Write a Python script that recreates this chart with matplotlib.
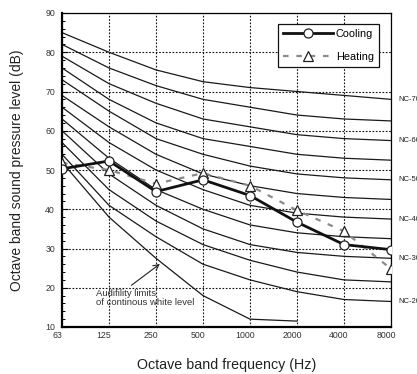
import matplotlib
matplotlib.use("Agg")
import matplotlib.pyplot as plt
from matplotlib.transforms import ScaledTranslation
from matplotlib.lines import Line2D

plt.rcParams['font.family'] = ['Liberation Sans', 'DejaVu Sans']

freqs = ["63", "125", "250", "500", "1000", "2000", "4000", "8000"]

nc_names = ["NC-70", "NC-65", "NC-60", "NC-55", "NC-50", "NC-45",
            "NC-40", "NC-35", "NC-30", "NC-25", "NC-20"]
nc_values = [
    [85, 80, 75.5, 72.5, 71, 70, 69, 68],
    [82, 76, 71.5, 68, 66, 64, 63, 62.5],
    [79, 72, 67, 63, 61, 59, 58, 57.5],
    [76, 68, 62, 58, 56, 54, 53, 52.5],
    [73, 65, 58, 54, 51, 49, 48, 47.5],
    [69, 61, 54, 49, 46, 44, 43, 42.5],
    [66, 57, 50, 45, 41, 39, 38, 37.5],
    [63, 53, 45, 40, 36, 34, 33, 32.5],
    [60, 49, 41, 35, 31, 29, 28, 27.5],
    [57, 45, 37, 31, 27, 24, 22, 21.5],
    [54, 41, 33, 26, 22, 19, 17, 16.5],
]
nc_labelled = ["NC-70", "NC-60", "NC-50", "NC-40", "NC-30", "NC-20"]

audibility = [52, 38, 27.5, 18, 12, 11.5]

cooling = [50.3, 52.3, 44.5, 47.5, 43.5, 36.7, 31.0, 29.7]
heating = [51.8, 50.0, 46.5, 49.2, 46.0, 39.7, 34.4, 24.8]

fig = plt.figure(figsize=(4.17, 3.74), dpi=100)
ax = fig.add_axes([62/417, 1-327/374, (391-62)/417, (327-13)/374])

x = list(range(len(freqs)))

for name, vals in zip(nc_names, nc_values):
    ax.plot(x, vals, color="#1a1a1a", lw=0.9, zorder=2)
    if name in nc_labelled:
        ax.text(x[-1] + 0.15, vals[-1], name, fontsize=5.5, va="center",
                ha="left", color="#222222", clip_on=False)

ax.plot(x[:len(audibility)], audibility, color="#1a1a1a", lw=0.9, zorder=2)

ax.plot(x, heating, color="#8a8a8a", lw=1.6, dashes=(2.5, 3.5), zorder=3,
        marker="^", markersize=6.5, markerfacecolor="white",
        markeredgecolor="#222222", markeredgewidth=0.9)
ax.plot(x, cooling, color="#111111", lw=2.0, zorder=4,
        marker="o", markersize=6.5, markerfacecolor="white",
        markeredgecolor="#222222", markeredgewidth=0.9)

ax.annotate("", xy=(2.13, 26.5), xytext=(1.43, 20.2),
            arrowprops=dict(arrowstyle="->", color="#222222", lw=0.8))
ax.text(0.72, 19.8, "Audifility limits\nof continous white level",
        fontsize=6.8, va="top", ha="left", color="#333333", linespacing=1.05)

ax.set_xlim(0, 7)
ax.set_ylim(10, 90)
ax.set_xticks(x)
ax.set_xticklabels(freqs)
ax.set_yticks(range(10, 91, 10))
ax.set_yticks(range(10, 91, 2), minor=True)
ax.tick_params(axis="x", length=0, labelsize=6.3, pad=3, colors="#333333")
ax.tick_params(axis="y", which="major", direction="in", length=4, width=0.8,
               labelsize=6.3, pad=5, labelcolor="#333333")
ax.tick_params(axis="y", which="minor", direction="in", length=2.5, width=0.7)
for lab in ax.get_xticklabels():
    lab.set_transform(lab.get_transform() + ScaledTranslation(-5/100, 0, fig.dpi_scale_trans))

ax.grid(True, which="major", color="#111111", linestyle=(0, (1.5, 1.5)), lw=0.8)
ax.set_axisbelow(True)

ax.spines["left"].set_linewidth(1.6)
ax.spines["bottom"].set_linewidth(1.6)
ax.spines["top"].set_linewidth(0.9)
ax.spines["right"].set_linewidth(0.9)

ax.set_xlabel("Octave band frequency (Hz)", fontsize=10.3, labelpad=13, color="#222222")
ax.set_ylabel("Octave band sound pressure level (dB)", fontsize=10, labelpad=15, color="#222222")

handles = [
    Line2D([], [], color="#111111", lw=2.0, marker="o", markersize=6.5,
           markerfacecolor="white", markeredgecolor="#222222", markeredgewidth=0.9),
    Line2D([], [], color="#8a8a8a", lw=1.6, dashes=(2.5, 3.5), marker="^", markersize=6.5,
           markerfacecolor="white", markeredgecolor="#222222", markeredgewidth=0.9),
]
leg = ax.legend(handles, ["Cooling", "Heating"], loc="upper right",
                bbox_to_anchor=(0.963, 0.965), fontsize=7.8, frameon=True,
                fancybox=False, edgecolor="#111111", framealpha=1,
                handlelength=4.6, handletextpad=0.3, borderpad=0.45,
                labelspacing=1.2, borderaxespad=0)
leg.get_frame().set_linewidth(0.9)
leg.set_zorder(10)

fig.savefig("out.png", dpi=100)
